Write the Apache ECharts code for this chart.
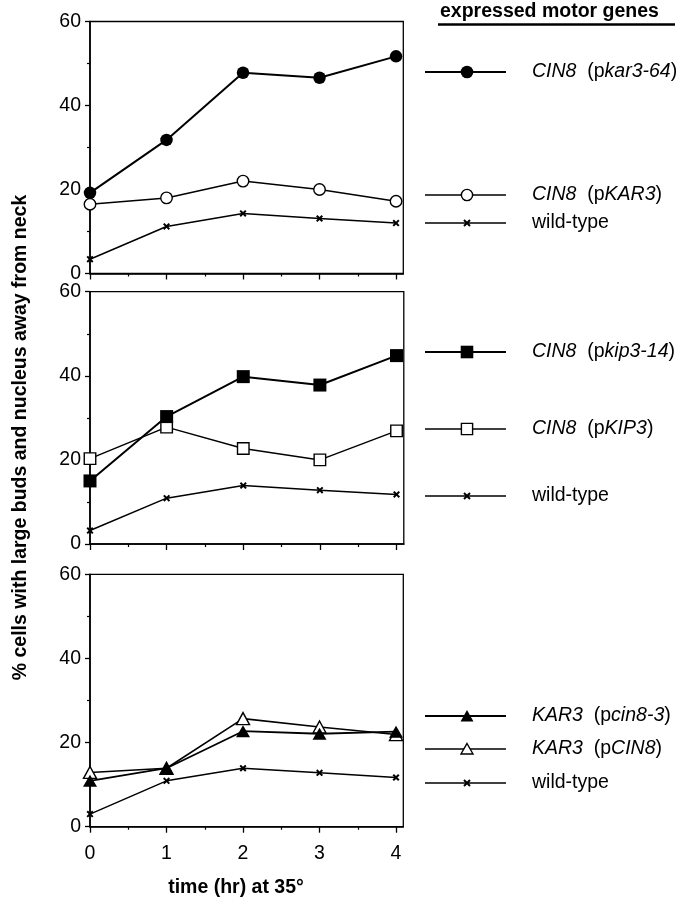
<!DOCTYPE html>
<html>
<head>
<meta charset="utf-8">
<script src="https://cdn.jsdelivr.net/npm/echarts@6/dist/echarts.min.js"></script>
<style>
  html, body { margin: 0; padding: 0; background: #fff; }
  #chart { width: 682px; height: 900px; }
</style>
</head>
<body>
<div id="chart"></div>
<script>
// ---------- data ----------
const timeHours = [0, 1, 2, 3, 4];
const xTickLabels = [0, 1, 2, 3, 4];
const yTickLabels = [0, 20, 40, 60];

// panel 1
const cin8_pkar3_64 = [19.2, 31.8, 47.8, 46.6, 51.7];
const cin8_pKAR3    = [16.5, 18.0, 22.0, 20.0, 17.2];
const wildType1     = [3.4, 11.2, 14.3, 13.1, 12.0];
// panel 2
const cin8_pkip3_14 = [15.0, 30.3, 39.8, 37.8, 44.8];
const cin8_pKIP3    = [20.3, 27.8, 22.7, 20.0, 26.9];
const wildType2     = [3.2, 10.9, 13.9, 12.8, 11.8];
// panel 3
const kar3_pcin8_3  = [10.9, 13.9, 22.7, 22.1, 22.6];
const kar3_pCIN8    = [12.9, 13.9, 25.7, 23.7, 21.9];
const wildType3     = [3.0, 10.9, 13.9, 12.8, 11.7];

const legendTitle = 'expressed motor genes';
const legendLabels = [
  '{i|CIN8}  (p{i|kar3-64})',
  '{i|CIN8}  (p{i|KAR3})',
  'wild-type',
  '{i|CIN8}  (p{i|kip3-14})',
  '{i|CIN8}  (p{i|KIP3})',
  'wild-type',
  '{i|KAR3}  (p{i|cin8-3})',
  '{i|KAR3}  (p{i|CIN8})',
  'wild-type'
];
const xTitle = 'time (hr) at 35°';
const yTitle = '% cells with large buds and nucleus away from neck';

// ---------- style ----------
const FONT = '"Liberation Sans", Arial, Helvetica, sans-serif';
const X_PATH = 'path://M0,2L2,0L5,3L8,0L10,2L7,5L10,8L8,10L5,7L2,10L0,8L3,5Z';

const grids = [
  { left: 90, top: 21.5, width: 313.3, height: 252 },
  { left: 90, top: 291.7, width: 313.8, height: 252.3 },
  { left: 90, top: 574.3, width: 313.3, height: 252.4 }
];

function xAxisFor(gi, showLabels) {
  return {
    type: 'value', gridIndex: gi, min: 0, max: 4.095, interval: 1,
    axisLine: { show: true, onZero: false, lineStyle: { color: '#000', width: 1.5 } },
    axisTick: { show: true, inside: false, length: 6, lineStyle: { color: '#000', width: 1.3 }, customValues: xTickLabels },
    minorTick: { show: true, splitNumber: 2, length: 3, lineStyle: { color: '#000', width: 1.2 } },
    axisLabel: {
      show: showLabels, customValues: xTickLabels, margin: 17,
      fontFamily: FONT, fontSize: 19.5, color: '#000',
      formatter: v => (Number.isInteger(v) ? String(v) : '')
    },
    splitLine: { show: false }
  };
}
function yAxisFor(gi) {
  return {
    type: 'value', gridIndex: gi, min: 0, max: 60, interval: 20,
    axisLine: { show: true, onZero: false, lineStyle: { color: '#000', width: 1.6 } },
    axisTick: { show: true, inside: false, length: 5, lineStyle: { color: '#000', width: 1.3 } },
    minorTick: { show: true, splitNumber: 2, length: 3, lineStyle: { color: '#000', width: 1.2 } },
    axisLabel: { show: true, margin: 9, fontFamily: FONT, fontSize: 19.5, color: '#000' },
    splitLine: { show: false }
  };
}

function pairs(vals) { return timeHours.map((t, i) => [t, vals[i]]); }

function series(name, vals, gi, symbol, size, filled, lw) {
  return {
    name, type: 'line', xAxisIndex: gi, yAxisIndex: gi,
    data: pairs(vals),
    symbol, symbolSize: size, showAllSymbol: true,
    lineStyle: { color: '#000', width: lw },
    itemStyle: filled ? { color: '#000', borderColor: '#000', borderWidth: 0 }
                      : { color: '#fff', borderColor: '#000', borderWidth: 1.4 },
    emphasis: { disabled: true },
    animation: false
  };
}

const seriesList = [
  series('wild-type 1', wildType1, 0, X_PATH, 7, true, 1.5),
  series('CIN8 (pkar3-64)', cin8_pkar3_64, 0, 'circle', 12.5, true, 2),
  series('CIN8 (pKAR3)', cin8_pKAR3, 0, 'circle', 11.5, false, 1.5),

  series('wild-type 2', wildType2, 1, X_PATH, 7, true, 1.5),
  series('CIN8 (pKIP3)', cin8_pKIP3, 1, 'rect', 11.5, false, 1.5),
  series('CIN8 (pkip3-14)', cin8_pkip3_14, 1, 'rect', 13, true, 2),

  series('wild-type 3', wildType3, 2, X_PATH, 7, true, 1.5),
  series('KAR3 (pCIN8)', kar3_pCIN8, 2, 'triangle', [13, 12], false, 1.6),
  series('KAR3 (pcin8-3)', kar3_pcin8_3, 2, 'triangle', [14, 12], true, 1.8)
];

// ---------- legend drawn as graphics ----------
const legendRows = [72, 195, 223, 352, 429, 496, 716, 749, 783];
const legendMarkers = ['fcircle', 'ocircle', 'x', 'frect', 'orect', 'x', 'ftri', 'otri', 'x'];
const legendLineWidths = [2, 1.5, 1.5, 2, 1.5, 1.5, 1.8, 1.6, 1.5];
const LX0 = 425, LX1 = 506, LMX = 467, LTX = 532;

function markerGraphic(kind, cx, cy) {
  const blk = { fill: '#000', stroke: '#000', lineWidth: 0 };
  const opn = { fill: '#fff', stroke: '#000', lineWidth: 1.4 };
  switch (kind) {
    case 'fcircle': return { type: 'circle', shape: { cx, cy, r: 6.3 }, style: blk };
    case 'ocircle': return { type: 'circle', shape: { cx, cy, r: 5.6 }, style: opn };
    case 'frect': return { type: 'rect', shape: { x: cx - 6.3, y: cy - 6.3, width: 12.6, height: 12.6 }, style: blk };
    case 'orect': return { type: 'rect', shape: { x: cx - 5.6, y: cy - 5.6, width: 11.2, height: 11.2 }, style: opn };
    case 'ftri': return { type: 'polygon', shape: { points: [[cx, cy - 6], [cx + 6.5, cy + 5.5], [cx - 6.5, cy + 5.5]] }, style: blk };
    case 'otri': return { type: 'polygon', shape: { points: [[cx, cy - 5.5], [cx + 6, cy + 5], [cx - 6, cy + 5]] }, style: opn };
    default: return { type: 'group', children: [
      { type: 'line', shape: { x1: cx - 3, y1: cy - 3, x2: cx + 3, y2: cy + 3 }, style: { stroke: '#000', lineWidth: 2 } },
      { type: 'line', shape: { x1: cx - 3, y1: cy + 3, x2: cx + 3, y2: cy - 3 }, style: { stroke: '#000', lineWidth: 2 } }
    ] };
  }
}

const graphics = [];
graphics.push({
  type: 'text', x: 440, y: 12,
  style: { text: legendTitle, fontFamily: FONT, fontSize: 19.5, fontWeight: 'bold', fill: '#000', textAlign: 'left', textVerticalAlign: 'middle' }
});
graphics.push({ type: 'line', shape: { x1: 438, y1: 24.5, x2: 675, y2: 24.5 }, style: { stroke: '#000', lineWidth: 2.5 } });

legendRows.forEach((y, i) => {
  graphics.push({ type: 'line', shape: { x1: LX0, y1: y, x2: LX1, y2: y }, style: { stroke: '#000', lineWidth: legendLineWidths[i] } });
  graphics.push(markerGraphic(legendMarkers[i], LMX, y));
  graphics.push({
    type: 'text', x: LTX, y: y,
    style: {
      text: legendLabels[i], fontFamily: FONT, fontSize: 19.5, fill: '#000',
      textAlign: 'left', textVerticalAlign: 'middle',
      rich: { i: { fontStyle: 'italic', fontFamily: FONT, fontSize: 19.5, fill: '#000' } }
    }
  });
});

// axis titles
graphics.push({
  type: 'text', x: 236, y: 888,
  style: { text: xTitle, fontFamily: FONT, fontSize: 19.5, fontWeight: 'bold', fill: '#000', textAlign: 'center', textVerticalAlign: 'middle' }
});
graphics.push({
  type: 'text', x: 21, y: 437.5, rotation: Math.PI / 2,
  style: { text: yTitle, fontFamily: FONT, fontSize: 19.5, fontWeight: 'bold', fill: '#000', textAlign: 'center', textVerticalAlign: 'middle' }
});

const option = {
  animation: false,
  backgroundColor: '#fff',
  grid: grids.map(g => Object.assign({ show: true, borderColor: '#000', borderWidth: 1.3, backgroundColor: 'transparent', containLabel: false }, g)),
  xAxis: [xAxisFor(0, false), xAxisFor(1, false), xAxisFor(2, true)],
  yAxis: [yAxisFor(0), yAxisFor(1), yAxisFor(2)],
  series: seriesList,
  graphic: graphics
};

const chart = echarts.init(document.getElementById('chart'), null, { renderer: 'canvas' });
chart.setOption(option);
</script>
</body>
</html>
